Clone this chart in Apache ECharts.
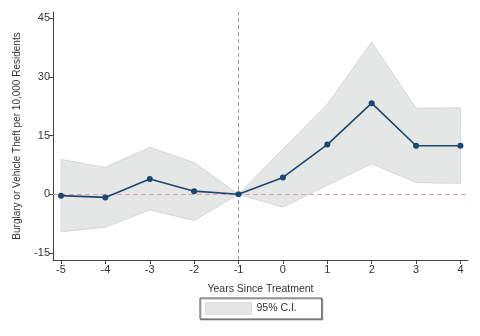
<!DOCTYPE html>
<html><head><meta charset="utf-8">
<script src="https://cdn.jsdelivr.net/npm/echarts@6/dist/echarts.min.js"></script>
<style>html,body{margin:0;padding:0;background:#fff}#c{width:480px;height:336px}</style>
</head><body><div id="c"></div>
<script>
const years = [-5, -4, -3, -2, -1, 0, 1, 2, 3, 4];
const estimate = [-0.35, -0.8, 3.9, 0.8, 0, 4.3, 12.7, 23.3, 12.4, 12.4];
const ciUpper = [8.9, 6.9, 12.0, 8.1, 0, 11.6, 23.0, 38.9, 22.0, 22.1];
const ciLower = [-9.6, -8.4, -4.0, -6.7, 0, -3.3, 2.3, 7.8, 3.0, 2.8];
const xTicks = [-5, -4, -3, -2, -1, 0, 1, 2, 3, 4];
const yTicks = [-15, 0, 15, 30, 45];

const font = '"Liberation Sans", Arial, sans-serif';
const chart = echarts.init(document.getElementById('c'), null, {renderer: 'canvas'});
chart.setOption({
  animation: false,
  backgroundColor: '#fff',
  grid: {left: 53, right: 12, top: 12, bottom: 76, outerBoundsMode: 'none', containLabel: false},
  legend: {
    data: ['95% C.I.'],
    left: 200, top: 298,
    padding: [4, 25, 4, 5],
    itemWidth: 46, itemHeight: 12,
    borderColor: '#555', borderWidth: 1,
    shadowColor: 'rgba(0,0,0,0.3)', shadowOffsetX: 1, shadowOffsetY: 1, shadowBlur: 0,
    backgroundColor: '#fff',
    icon: 'rect',
    itemStyle: {color: '#e5e7e7', borderColor: '#dcdede', borderWidth: 1},
    textStyle: {fontFamily: font, fontSize: 10.5, color: '#333'}
  },
  xAxis: {
    type: 'value', min: -5.18, max: 4.17,
    name: 'Years Since Treatment', nameLocation: 'middle', nameGap: 24,
    nameTextStyle: {fontFamily: font, fontSize: 10.5, color: '#333'},
    axisLine: {show: true, onZero: false, lineStyle: {color: '#444', width: 1}},
    axisTick: {show: true, length: 4, customValues: xTicks, lineStyle: {color: '#444'}},
    axisLabel: {customValues: xTicks, fontFamily: font, fontSize: 11, color: '#333', margin: 4},
    splitLine: {show: false}
  },
  yAxis: {
    type: 'value', min: -16.8, max: 46.6,
    name: 'Burglary or Vehicle Theft per 10,000 Residents', nameLocation: 'middle', nameGap: 31,
    nameTextStyle: {fontFamily: font, fontSize: 10, color: '#333'},
    axisLine: {show: true, onZero: false, lineStyle: {color: '#444', width: 1}},
    axisTick: {show: true, length: 4, customValues: yTicks, lineStyle: {color: '#444'}},
    axisLabel: {customValues: yTicks, fontFamily: font, fontSize: 11, color: '#333', margin: 3},
    splitLine: {show: false}
  },
  series: [
    {
      name: '95% C.I.',
      type: 'custom',
      z: 1,
      data: [0],
      itemStyle: {color: '#e5e7e7'},
      renderItem: function (params, api) {
        const pts = [];
        for (let i = 0; i < years.length; i++) pts.push(api.coord([years[i], ciUpper[i]]));
        for (let i = years.length - 1; i >= 0; i--) pts.push(api.coord([years[i], ciLower[i]]));
        return {
          type: 'polygon',
          shape: {points: pts},
          style: {fill: '#e5e7e7', stroke: '#d6d8d8', lineWidth: 1}
        };
      }
    },
    {
      name: 'Estimate',
      type: 'line',
      z: 3,
      data: years.map((x, i) => [x, estimate[i]]),
      symbol: 'circle', symbolSize: 6,
      lineStyle: {color: '#1a476f', width: 1.6},
      itemStyle: {color: '#1a476f'},
      markLine: {
        silent: true, symbol: 'none', label: {show: false}, z: 2,
        data: [
          {xAxis: -1, lineStyle: {color: '#999', type: [4, 3], width: 1}},
          {yAxis: 0, lineStyle: {color: '#eea0a0', type: [5, 3], width: 1}}
        ]
      }
    }
  ]
});
</script></body></html>
